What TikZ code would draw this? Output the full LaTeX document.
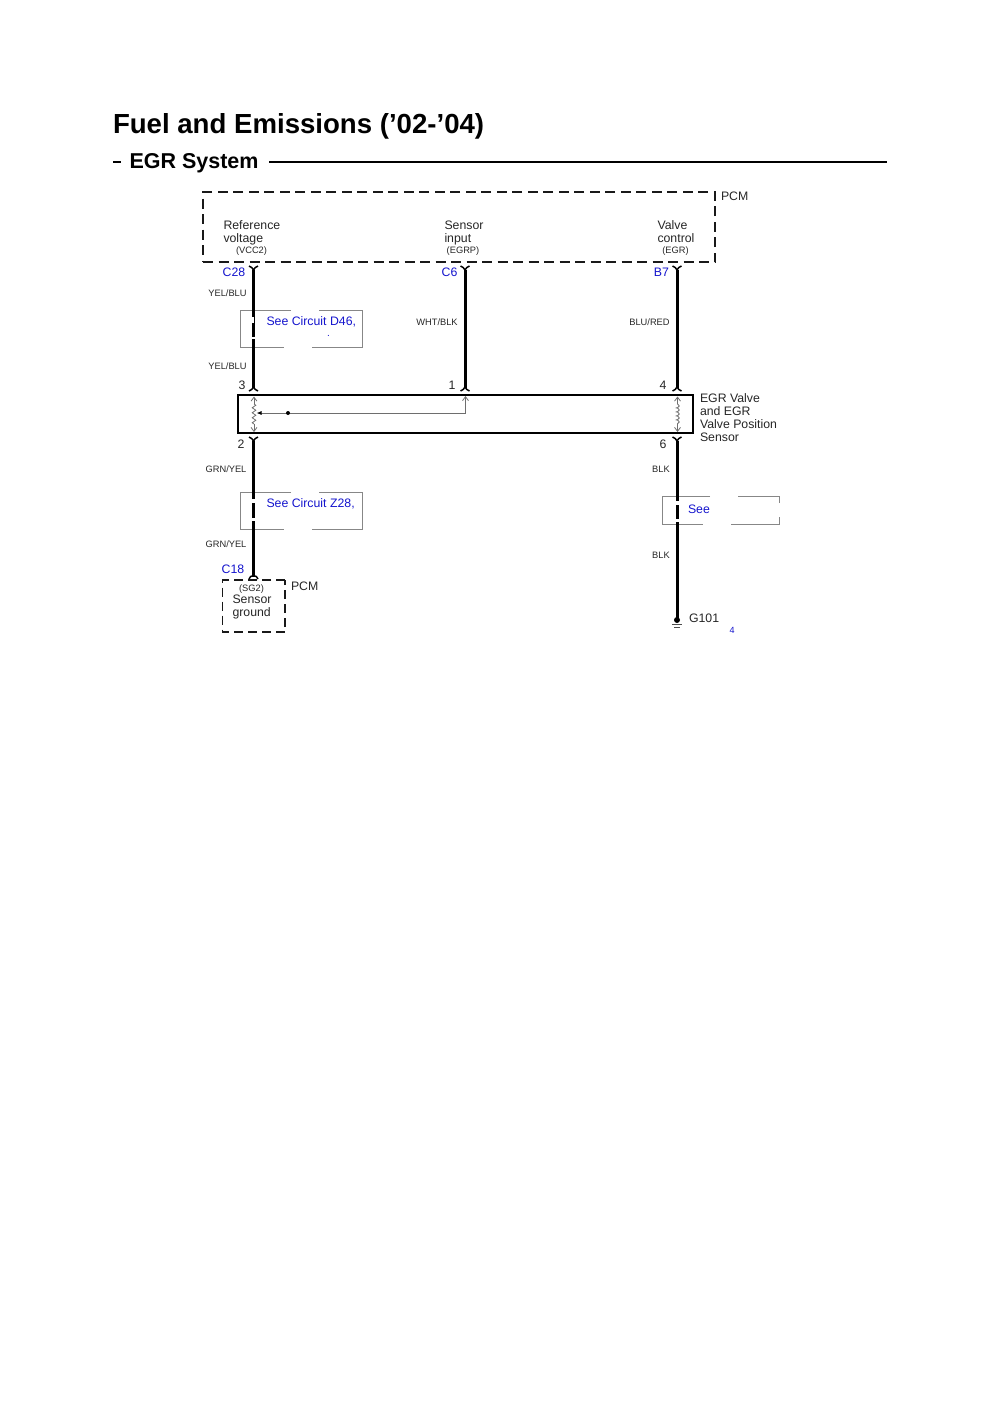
\documentclass[tikz,border=0pt]{standalone}
\usepackage{fontspec}
\setmainfont{Liberation Sans}
\usetikzlibrary{arrows.meta,decorations.pathmorphing}
\definecolor{linkblue}{RGB}{20,20,205}
\definecolor{boxgray}{RGB}{135,135,135}
\definecolor{inner}{RGB}{110,110,110}
\tikzset{
  x=1pt,y=-1pt,
  every node/.style={inner sep=0pt,outer sep=0pt},
  lab/.style={font=\fontsize{12.3}{13}\selectfont,anchor=west,align=left,text=black!85},
  small/.style={font=\fontsize{9.3}{10}\selectfont,text=black!85},
  pin/.style={font=\fontsize{12.3}{13}\selectfont,text=linkblue},
  num/.style={font=\fontsize{12.3}{13}\selectfont,text=black!85},
  dashbox/.style={draw=black!90,line width=1.6pt,dash pattern=on 10pt off 5.5pt},
  wire/.style={draw=black,line width=3pt},
  fork/.style={draw=black,line width=1.5pt},
  refbox/.style={draw=boxgray,line width=.9pt},
  fine/.style={draw=inner,line width=.8pt},
  finearrow/.style={fine,-{Straight Barb[length=4pt,width=6pt]}}
}
\begin{document}
\begin{tikzpicture}
\useasboundingbox (0,0) rectangle (1000,1414);
% titles
\node[anchor=west,font=\bfseries\fontsize{27.6}{30}\selectfont] (title) at (113,126.5) {Fuel and Emissions (’02-’04)};
\node[anchor=west,font=\bfseries\fontsize{21.5}{24}\selectfont] (sub) at (129.5,163) {EGR System};
\coordinate (d1) at (113,162); \coordinate (d2) at (121,162);
\coordinate (r1) at (269,162); \coordinate (r2) at (887,162);
\draw[line width=1.5pt] (d1) -- (d2);
\draw[line width=1.5pt] (r1) -- (r2);
% PCM top box
\node[dashbox,minimum width=512pt,minimum height=70pt,anchor=north west] (pcm) at (203,192) {};
\node[lab] (pcmt) at (721,196) {PCM};
\node[lab,anchor=north west] (t1) at (223.5,221) {Reference\\voltage};
\node[small] (t1b) at (251.5,251) {(VCC2)};
\node[lab,anchor=north west] (t2) at (444.5,221) {Sensor\\input};
\node[small] (t2b) at (463,251) {(EGRP)};
\node[lab,anchor=north west] (t3) at (657.5,221) {Valve\\control};
\node[small] (t3b) at (675.5,251) {(EGR)};
% reference boxes (with gaps)
\coordinate (ba) at (291,310);\coordinate (bb) at (240,310);\coordinate (bc) at (240,347);\coordinate (bd) at (284,347);
\coordinate (be) at (312,347);\coordinate (bf) at (362,347);\coordinate (bg) at (362,310);\coordinate (bh) at (319,310);
\draw[refbox] (ba) -- (bb) -- (bc) -- (bd);
\draw[refbox] (be) -- (bf) -- (bg) -- (bh);
\coordinate (ca) at (291,492);\coordinate (cb) at (240,492);\coordinate (cc) at (240,529);\coordinate (cd) at (284,529);
\coordinate (ce) at (312,529);\coordinate (cf) at (362,529);\coordinate (cg) at (362,492);\coordinate (ch) at (319,492);
\draw[refbox] (ca) -- (cb) -- (cc) -- (cd);
\draw[refbox] (ce) -- (cf) -- (cg) -- (ch);
\coordinate (ea) at (710,496);\coordinate (eb) at (662,496);\coordinate (ec) at (662,524);\coordinate (ed) at (703,524);
\coordinate (ee) at (731,524);\coordinate (ef) at (779,524);\coordinate (ef2) at (779,517);
\coordinate (eg2) at (779,503);\coordinate (eg) at (779,496);\coordinate (eh) at (738,496);
\draw[refbox] (ea) -- (eb) -- (ec) -- (ed);
\draw[refbox] (ee) -- (ef) -- (ef2);
\draw[refbox] (eg2) -- (eg) -- (eh);
% connector anchors
\coordinate (w1t) at (253.5,270);\coordinate (w1b) at (253.5,388);
\coordinate (w2t) at (465,270);\coordinate (w2b) at (465,388);
\coordinate (w3t) at (677,270);\coordinate (w3b) at (677,388);
\coordinate (w4t) at (253.5,441);\coordinate (w4b) at (253.5,577);
\coordinate (w6t) at (677,441);\coordinate (w6b) at (677,620);
% wires
\foreach \a/\b in {w1t/w1b,w2t/w2b,w3t/w3b,w4t/w4b,w6t/w6b}{\draw[wire] (\a) -- (\b);}
% white gaps in wires
\coordinate (g1a) at (252.5,317);\coordinate (g1b) at (252.5,323);
\coordinate (g2a) at (253.5,336.5);\coordinate (g2b) at (253.5,339);
\coordinate (g3a) at (253.5,499);\coordinate (g3b) at (253.5,503);
\coordinate (g4a) at (253.5,518);\coordinate (g4b) at (253.5,520.5);
\coordinate (g5a) at (677,501);\coordinate (g5b) at (677,505);
\coordinate (g6a) at (677,519);\coordinate (g6b) at (677,521.5);
\foreach \a/\b in {g1a/g1b,g2a/g2b,g3a/g3b,g4a/g4b,g5a/g5b,g6a/g6b}{\draw[draw=white,line width=3.4pt] (\a) -- (\b);}
% forks (top: Y, bottom: arch)
\foreach \p in {w1t,w2t,w3t,w4t,w6t}{
  \draw[fork] ([xshift=-4.5pt,yshift=4pt]\p) .. controls ([xshift=-2pt,yshift=3.5pt]\p) and ([xshift=-1pt,yshift=1.5pt]\p) .. ([yshift=0pt]\p)
   .. controls ([xshift=1pt,yshift=1.5pt]\p) and ([xshift=2pt,yshift=3.5pt]\p) .. ([xshift=4.5pt,yshift=4pt]\p);
}
\foreach \p in {w1b,w2b,w3b}{
  \draw[fork] ([xshift=-4.5pt,yshift=-3pt]\p) .. controls ([xshift=-2pt,yshift=-2.5pt]\p) and ([xshift=-1pt,yshift=-.5pt]\p) .. ([yshift=1pt]\p)
   .. controls ([xshift=1pt,yshift=-.5pt]\p) and ([xshift=2pt,yshift=-2.5pt]\p) .. ([xshift=4.5pt,yshift=-3pt]\p);
}
\coordinate (w4arc) at (253.5,576);
\draw[fork] ([xshift=-4.5pt,yshift=-3pt]w4arc) .. controls ([xshift=-3.5pt,yshift=1.5pt]w4arc) and ([xshift=3.5pt,yshift=1.5pt]w4arc) .. ([xshift=4.5pt,yshift=-3pt]w4arc);
% main component box
\node[draw=black,line width=1.4pt,minimum width=455pt,minimum height=38pt,anchor=north west] (egr) at (238,395) {};
\coordinate (p1t) at (254,396.5);\coordinate (p1b) at (254,432);
\coordinate (p1c) at (254,404);\coordinate (p1d) at (254,424);
\coordinate (p3t) at (677.5,396.5);\coordinate (p3b) at (677.5,432);\coordinate (p3c) at (677.5,404);\coordinate (p3d) at (677.5,424);
\coordinate (s) at (465.5,413);\coordinate (st) at (465.5,396);\coordinate (wip) at (256.5,413);
\draw[finearrow] (p1c) -- (p1t);
\draw[finearrow] (p1d) -- (p1b);
\draw[fine,decorate,decoration={zigzag,segment length=5pt,amplitude=1.8pt}] (p1c) -- (p1d);
\draw[finearrow] (p3c) -- (p3t);
\draw[finearrow] (p3d) -- (p3b);
\draw[fine,decorate,decoration={coil,segment length=4pt,amplitude=1.8pt}] (p3c) -- (p3d);
\draw[finearrow] (s) -- (st);
\draw[fine,-{Latex[length=5pt,width=4pt,black]}] (s) -- (wip);
\fill[black] (288,413) circle (2pt);
% pin labels
\node[pin] (c28) at (234,272) {C28};
\node[pin] (c6) at (449.5,272) {C6};
\node[pin] (b7) at (661.5,272) {B7};
\node[pin] (c18) at (233,569) {C18};
\node[num] (n3) at (242,385) {3};
\node[num] (n1) at (452,385) {1};
\node[num] (n4) at (663,385) {4};
\node[num] (n2) at (241,444) {2};
\node[num] (n6) at (663,444) {6};
% wire colours
\node[small] (l1) at (227.5,293.5) {YEL/BLU};
\node[small] (l2) at (227.5,366) {YEL/BLU};
\node[small] (l3) at (437,322.5) {WHT/BLK};
\node[small] (l4) at (649.5,322.5) {BLU/RED};
\node[small] (l5) at (226,469) {GRN/YEL};
\node[small] (l6) at (226,544.5) {GRN/YEL};
\node[small] (l7) at (661,469) {BLK};
\node[small] (l8) at (661,555) {BLK};
% references
\node[pin,anchor=west] (r1t) at (266.5,322) {See Circuit D46,};
\node[pin,anchor=center,font=\fontsize{10}{10}\selectfont] (r1d) at (328.5,336) {.};
\node[pin,anchor=west] (r2t) at (266.5,503.5) {See Circuit Z28,};
\node[pin,anchor=west] (r3t) at (688,509.5) {See};
% component label
\node[lab,anchor=north west] (cl) at (700,394) {EGR Valve\\and EGR\\Valve Position\\Sensor};
% bottom PCM
\coordinate (qa) at (285,580);\coordinate (qb) at (222.5,580);\coordinate (qc) at (222.5,632);\coordinate (qd) at (285,632);
\draw[dashbox,dash pattern=on 9pt off 5pt] (qa) -- (qb) -- (qc) -- (qd) -- cycle;
\node[small] (sg) at (251.5,589) {(SG2)};
\node[lab,anchor=north west] (sg2) at (232.5,595) {Sensor\\ground};
\node[lab] (pcm2) at (291,586) {PCM};
% ground
\fill[black] (w6b) circle (3pt);
\coordinate (h1a) at (672,624.5);\coordinate (h1b) at (682,624.5);
\coordinate (h2a) at (674,627);\coordinate (h2b) at (680,627);
\draw[line width=.8pt,black!70] (h1a) -- (h1b);
\draw[line width=.8pt,black!70] (h2a) -- (h2b);
\node[lab] (g101) at (689,618.5) {G101};
\node[pin,font=\fontsize{9}{9}\selectfont] (four) at (732,630) {4};
\end{tikzpicture}
\end{document}
